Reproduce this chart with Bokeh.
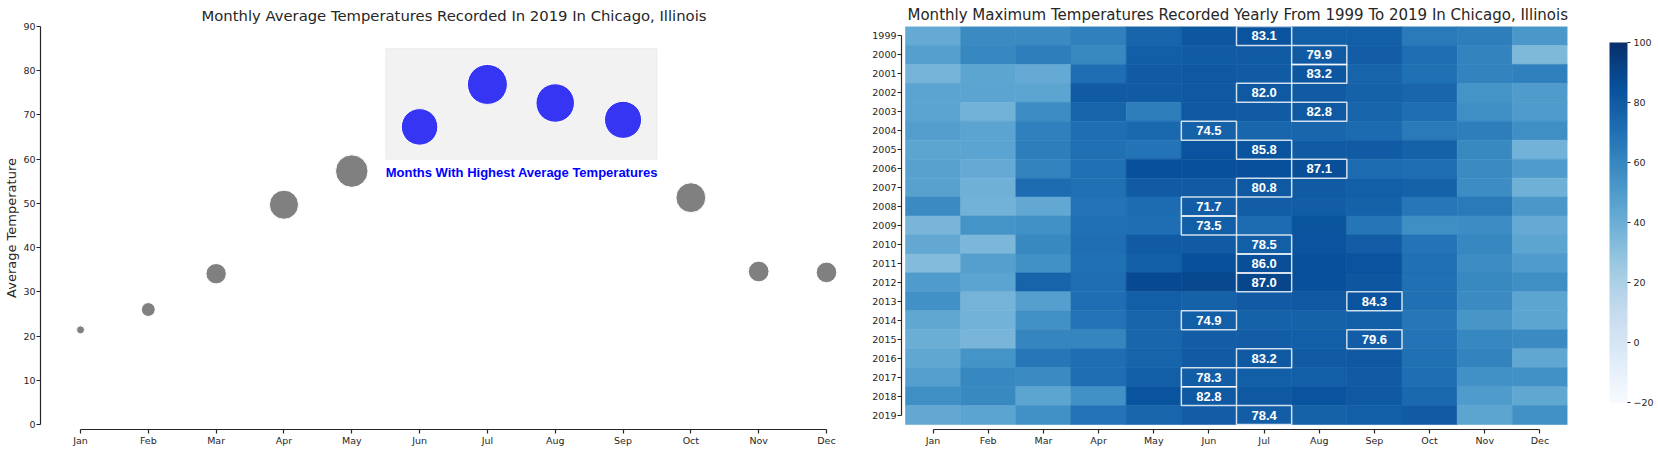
from bokeh.plotting import figure
from bokeh.layouts import row
from bokeh.models import (FixedTicker, LinearColorMapper, ColorBar, BoxAnnotation,
                          ColumnDataSource, Range1d, Label)
from bokeh.palettes import Blues256
from bokeh.core.properties import value
from bokeh.embed import file_html
from bokeh.resources import INLINE

# ---------------- data ----------------
months = ["Jan", "Feb", "Mar", "Apr", "May", "Jun", "Jul", "Aug", "Sep", "Oct", "Nov", "Dec"]
avg_temp_2019 = [21.4, 26.0, 34.1, 49.7, 57.3, 67.3, 76.9, 72.7, 68.9, 51.3, 34.6, 34.4]
highlight_months = ["Jun", "Jul", "Aug", "Sep"]
y_ticks_left = [0, 10, 20, 30, 40, 50, 60, 70, 80, 90]

years = list(range(1999, 2020))
max_1999 = [42, 58, 58, 63, 76, 82, 84, 78, 78, 66, 64, 52]
max_2000 = [48, 60, 64, 59, 78, 80, 80, 80, 79, 71, 62, 34]
max_2001 = [37, 45, 42, 71, 80, 81, 80, 82, 76, 70, 62, 63]
max_2002 = [46, 46, 45, 80, 80, 81, 81, 80, 77, 75, 54, 50]
max_2003 = [46, 38, 57, 76, 64, 81, 80, 81, 76, 71, 56, 50]
max_2004 = [49, 46, 63, 71, 74, 77, 75, 75, 73, 66, 64, 56]
max_2005 = [45, 46, 64, 70, 69, 84, 84, 80, 80, 77, 59, 38]
max_2006 = [47, 42, 62, 70, 85, 85, 85, 86, 72, 71, 58, 50]
max_2007 = [47, 39, 72, 70, 80, 80, 81, 80, 78, 77, 57, 39]
max_2008 = [58, 38, 43, 69, 72, 79, 79, 79, 77, 67, 66, 52]
max_2009 = [36, 54, 55, 70, 71, 78, 72, 83, 68, 56, 57, 42]
max_2010 = [43, 35, 59, 71, 80, 80, 78, 84, 79, 69, 60, 45]
max_2011 = [33, 48, 55, 70, 78, 85, 86, 85, 84, 70, 57, 50]
max_2012 = [50, 46, 76, 71, 88, 89, 90, 85, 82, 70, 59, 56]
max_2013 = [55, 37, 48, 71, 78, 77, 80, 81, 84, 70, 58, 45]
max_2014 = [44, 38, 55, 69, 76, 78, 77, 77, 78, 67, 53, 45]
max_2015 = [40, 36, 61, 61, 75, 79, 79, 78, 79, 69, 60, 58]
max_2016 = [44, 54, 67, 71, 76, 80, 81, 80, 81, 70, 62, 44]
max_2017 = [48, 60, 58, 71, 78, 79, 78, 78, 80, 71, 55, 55]
max_2018 = [56, 59, 45, 55, 84, 81, 81, 84, 81, 74, 50, 44]
max_2019 = [43, 46, 55, 69, 75, 79, 79, 77, 78, 80, 45, 55]
max_rows = [max_1999, max_2000, max_2001, max_2002, max_2003, max_2004, max_2005,
            max_2006, max_2007, max_2008, max_2009, max_2010, max_2011, max_2012,
            max_2013, max_2014, max_2015, max_2016, max_2017, max_2018, max_2019]

peak_month = ["Jul", "Aug", "Aug", "Jul", "Aug", "Jun", "Jul", "Aug", "Jul", "Jun", "Jun",
              "Jul", "Jul", "Jul", "Sep", "Jun", "Sep", "Jul", "Jun", "Jun", "Jul"]
peak_value = [83.1, 79.9, 83.2, 82.0, 82.8, 74.5, 85.8, 87.1, 80.8, 71.7, 73.5,
              78.5, 86.0, 87.0, 84.3, 74.9, 79.6, 83.2, 78.3, 82.8, 78.4]
cbar_ticks = [-20, 0, 20, 40, 60, 80, 100]

# ---------------- styles ----------------
TXT = "#262626"
FONT = "DejaVu Sans"
TICK_FS = "9.5px"
H = 450


def style_axes(p):
    for ax in (p.xaxis[0], p.yaxis[0]):
        ax.axis_line_color = TXT
        ax.axis_line_width = 1.2
        ax.major_tick_line_color = TXT
        ax.major_tick_line_width = 1.2
        ax.major_tick_out = 4
        ax.major_tick_in = 0
        ax.minor_tick_line_color = None
        ax.major_label_text_font = FONT
        ax.major_label_text_font_size = TICK_FS
        ax.major_label_text_color = TXT
        ax.major_label_standoff = 1
    p.xgrid.visible = False
    p.ygrid.visible = False
    p.outline_line_color = None
    p.title.text_font = FONT
    p.title.text_font_size = "14.8px"
    p.title.text_font_style = "normal"
    p.title.text_color = TXT
    p.title.align = "left"
    p.title.standoff = 5


# ---------------- left: bubble chart ----------------
W1 = 858
BL, BR, BT, BB = 40, 8, 26, 21
frame_w = W1 - BL - BR
frame_h = H - BT - BB
jan_px, dec_px = 80 - BL, 826 - BL       # first/last month, px from frame left
xs = (dec_px - jan_px) / (len(months) - 1)
x0 = -jan_px / xs
x1 = x0 + frame_w / xs
zero_px = 424 - BT                        # y=0 px below frame top (y=90 at top)
ys = zero_px / 90
y1 = 90
y0 = -(frame_h - zero_px) / ys

p1 = figure(width=W1, height=H, x_range=Range1d(x0, x1), y_range=Range1d(y0, y1),
            output_backend="svg", toolbar_location=None,
            min_border_left=BL, min_border_right=BR, min_border_top=BT, min_border_bottom=BB,
            title="Monthly Average Temperatures Recorded In 2019 In Chicago, Illinois")
style_axes(p1)
p1.title.offset = 201 - BL

hl_idx = [months.index(m) for m in highlight_months]
box = BoxAnnotation(left=min(hl_idx) - 0.5, right=max(hl_idx) + 0.5, bottom=60, top=85,
                    fill_color="#f2f2f2", fill_alpha=1.0, line_color="#dcdcdc",
                    line_width=1.2, level="underlay")
p1.add_layout(box)

d_min, d_max = 8.0, 40.0
tmin, tmax = min(avg_temp_2019), max(avg_temp_2019)
sizes = [(d_min ** 2 + (t - tmin) / (tmax - tmin) * (d_max ** 2 - d_min ** 2)) ** 0.5
         for t in avg_temp_2019]
colors = ["#3535f3" if m in highlight_months else "#808080" for m in months]
src1 = ColumnDataSource(dict(x=list(range(len(months))), y=avg_temp_2019,
                             s=sizes, c=colors))
p1.scatter("x", "y", size="s", fill_color="c", line_color="white", line_width=1,
           source=src1)

p1.add_layout(Label(x=min(hl_idx) - 0.5, y=60, y_offset=-6,
                    text="Months With Highest Average Temperatures",
                    text_color="#0000ff", text_font="Liberation Sans",
                    text_font_style="bold", text_font_size="13px",
                    text_align="left", text_baseline="top"))

p1.xaxis[0].ticker = FixedTicker(ticks=list(range(len(months))))
p1.xaxis[0].major_label_overrides = {i: m for i, m in enumerate(months)}
p1.xaxis[0].bounds = (0, len(months) - 1)
p1.yaxis[0].ticker = FixedTicker(ticks=y_ticks_left)
p1.yaxis[0].bounds = (0, 90)
p1.yaxis[0].axis_label = "Average Temperature"
p1.yaxis[0].axis_label_text_font = FONT
p1.yaxis[0].axis_label_text_font_size = "13px"
p1.yaxis[0].axis_label_text_font_style = "normal"
p1.yaxis[0].axis_label_text_color = TXT
p1.yaxis[0].axis_label_standoff = 1

# ---------------- right: heatmap ----------------
W2 = 798
cells_left, cells_right, cells_top, cells_bottom = 905, 1567, 22, 425
axis_left, axis_bottom = 901, 430
col_px = (cells_right - cells_left) / len(months)
row_px = (cells_bottom - cells_top) / len(years)
HL = axis_left - W1
HT = cells_top
HB = H - axis_bottom
HR = W2 - HL - (cells_right - axis_left)
hx0 = -0.5 - (cells_left - axis_left) / col_px
hy0 = years[-1] + 0.5 + (axis_bottom - cells_bottom) / row_px

p2 = figure(width=W2, height=H, x_range=Range1d(hx0, len(months) - 0.5),
            y_range=Range1d(hy0, years[0] - 0.5),
            output_backend="svg", toolbar_location=None,
            min_border_left=HL, min_border_right=HR, min_border_top=HT, min_border_bottom=HB,
            title="Monthly Maximum Temperatures Recorded Yearly From 1999 To 2019 In Chicago, Illinois")
style_axes(p2)
p2.title.text_font_size = "15px"
p2.title.offset = 907 - axis_left
p2.title.standoff = 6

mapper = LinearColorMapper(palette=list(reversed(Blues256)), low=cbar_ticks[0], high=cbar_ticks[-1])
hx, hy, hv = [], [], []
for yr, vals in zip(years, max_rows):
    for i, v in enumerate(vals):
        hx.append(i)
        hy.append(yr)
        hv.append(v)
src2 = ColumnDataSource(dict(x=hx, y=hy, v=hv))
p2.rect("x", "y", width=1, height=1, source=src2,
        fill_color={"field": "v", "transform": mapper},
        line_color={"field": "v", "transform": mapper}, line_width=0.6)

src3 = ColumnDataSource(dict(x=[months.index(m) for m in peak_month], y=years,
                             t=[f"{v:.1f}" for v in peak_value]))
p2.rect("x", "y", width=1, height=1, source=src3, fill_color=None,
        line_color="white", line_alpha=0.8, line_width=1.5)
p2.text("x", "y", text="t", source=src3, text_color="white",
        text_font=value("Liberation Sans"), text_font_style="bold",
        text_font_size="13px", text_align="center", text_baseline="middle")

p2.xaxis[0].ticker = FixedTicker(ticks=list(range(len(months))))
p2.xaxis[0].major_label_overrides = {i: m for i, m in enumerate(months)}
p2.xaxis[0].bounds = (0, len(months) - 1)
p2.yaxis[0].ticker = FixedTicker(ticks=years)
p2.yaxis[0].bounds = (years[0], years[-1])

cb = ColorBar(color_mapper=mapper, ticker=FixedTicker(ticks=cbar_ticks),
              width=18, height=360, location=(1609 - cells_right, axis_bottom - 403),
              padding=0, margin=0,
              major_tick_in=0, major_tick_out=3, major_tick_line_color=TXT,
              minor_tick_line_color=None, bar_line_color=None,
              major_label_text_font=FONT, major_label_text_font_size=TICK_FS,
              major_label_text_color=TXT, label_standoff=3,
              major_label_overrides={-20: "\u221220"},
              background_fill_color=None, border_line_color=None)
p2.add_layout(cb, "right")

layout = row(p1, p2)
open("out.html", "w").write(file_html(layout, INLINE))
